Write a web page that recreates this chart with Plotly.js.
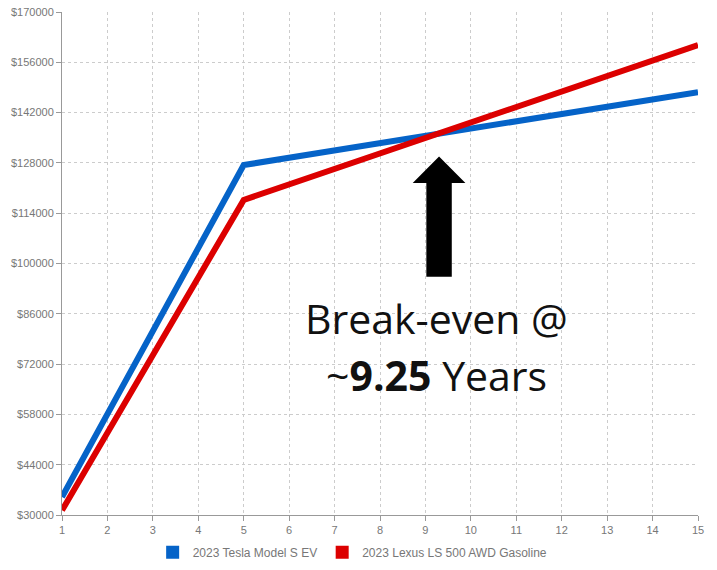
<!DOCTYPE html>
<html><head><meta charset="utf-8">
<script src="https://cdn.plot.ly/plotly-3.0.1.min.js"></script>
<style>html,body{margin:0;padding:0;background:#fff}#c{width:717px;height:570px}</style>
</head><body><div id="c"></div>
<script>
const years = [1, 5, 15];
const teslaCost = [35000, 127400, 147700];
const lexusCost = [31300, 117700, 160800];
const seriesNames = ["2023 Tesla Model S EV", "2023 Lexus LS 500 AWD Gasoline"];
const yTicks = [30000, 44000, 58000, 72000, 86000, 100000, 114000, 128000, 142000, 156000, 170000];
const yTickText = yTicks.map(v => "$" + v);
const xTicks = [1,2,3,4,5,6,7,8,9,10,11,12,13,14,15];
const breakEvenYear = 9.3;
const arrowTop = 129800, arrowHeadBase = 122400, arrowBottom = 96300;

const blue = "#0563c8", red = "#dc0000";
const traces = [
  {x: years, y: teslaCost, mode: "lines", line: {color: blue, width: 6}, showlegend: false, name: seriesNames[0], hoverinfo: "skip"},
  {x: years, y: lexusCost, mode: "lines", line: {color: red, width: 6}, showlegend: false, name: seriesNames[1], hoverinfo: "skip"},
  {x: [null], y: [null], mode: "markers", marker: {symbol: "square", size: 13, color: blue}, name: seriesNames[0]},
  {x: [null], y: [null], mode: "markers", marker: {symbol: "square", size: 13, color: red}, name: seriesNames[1]}
];
const sw = 0.28, hw = 0.58;
const bx = breakEvenYear;
const arrowPath = `M ${bx-sw} ${arrowBottom} L ${bx+sw} ${arrowBottom} L ${bx+sw} ${arrowHeadBase} L ${bx+hw} ${arrowHeadBase} L ${bx} ${arrowTop} L ${bx-hw} ${arrowHeadBase} L ${bx-sw} ${arrowHeadBase} Z`;
const bigFont = {size: 41, color: "#111", family: "Open Sans, Liberation Sans, sans-serif"};
const layout = {
  width: 717, height: 570,
  margin: {l: 62, r: 19, t: 12, b: 55, autoexpand: false},
  paper_bgcolor: "#fff", plot_bgcolor: "#fff",
  font: {family: "Liberation Sans, Arial, sans-serif", size: 11, color: "#777"},
  xaxis: {range: [1, 15], tickvals: xTicks, showgrid: true, gridcolor: "#cccccc", griddash: "3px,3px", gridwidth: 1,
    showline: true, linecolor: "#999", linewidth: 1, ticks: "outside", ticklen: 5, tickcolor: "#999",
    zeroline: false, automargin: false, tickfont: {size: 11, color: "#777"}},
  yaxis: {range: [30000, 170000], tickvals: yTicks, ticktext: yTickText, showgrid: true, gridcolor: "#cccccc", griddash: "3px,3px",
    showline: true, linecolor: "#999", linewidth: 1, ticks: "outside", ticklen: 5, tickcolor: "#999",
    zeroline: false, automargin: false, tickfont: {size: 11, color: "#777"}},
  legend: {orientation: "h", x: 0.457, xanchor: "center", y: -0.045, yanchor: "top", font: {size: 12, color: "#777"}, itemwidth: 30},
  shapes: [{type: "path", xref: "x", yref: "y", path: arrowPath, fillcolor: "#000", line: {width: 0}}],
  annotations: [
    {x: 9.25, y: 84800, xref: "x", yref: "y", showarrow: false, text: "Break-even @", font: bigFont},
    {x: 9.25, y: 69000, xref: "x", yref: "y", showarrow: false, text: "~<b>9.25</b> Years", font: bigFont}
  ]
};
Plotly.newPlot("c", traces, layout, {staticPlot: true});
</script></body></html>
